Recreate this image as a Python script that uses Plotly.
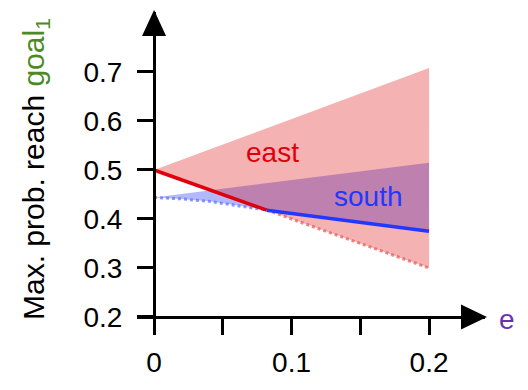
import plotly.graph_objects as go

# ---- data ----
e_major_ticks = [0, 0.1, 0.2]
e_tick_labels = ["0", "0.1", "0.2"]
e_minor_ticks = [0.05, 0.15]
p_ticks = [0.2, 0.3, 0.4, 0.5, 0.6, 0.7]
p_tick_labels = ["0.2", "0.3", "0.4", "0.5", "0.6", "0.7"]

east_upper_e = [0, 0.2]
east_upper = [0.5, 0.708]
east_lower_e = [0, 0.082, 0.2]
east_lower = [0.5, 0.418, 0.3]

south_upper_e = [0, 0.2]
south_upper = [0.444, 0.515]
south_lower_e = [0, 0.02, 0.04, 0.06, 0.082, 0.2]
south_lower = [0.444, 0.441, 0.436, 0.428, 0.418, 0.375]

crossover_e = 0.082

# ---- styling ----
FONT = "Liberation Sans, Arial, Helvetica, sans-serif"
FS = 28
RED = "#e0000c"
BLUE = "#2238ff"
W, H = 528, 390
xr = [-0.0124, 0.2407]
yr = [0.1673, 0.8224]
ml, mr, mt, mb = 137, 43, 12, 57

fig = go.Figure()

# south band (drawn first)
fig.add_trace(go.Scatter(
    x=south_upper_e + south_lower_e[::-1],
    y=south_upper + south_lower[::-1],
    fill="toself", fillcolor="rgba(0,20,240,0.30)",
    line=dict(width=0), mode="lines", hoverinfo="skip", showlegend=False))
# east band
fig.add_trace(go.Scatter(
    x=east_upper_e + east_lower_e[::-1],
    y=east_upper + east_lower[::-1],
    fill="toself", fillcolor="rgba(220,0,0,0.30)",
    line=dict(width=0), mode="lines", hoverinfo="skip", showlegend=False))

# split lower bounds at crossover
def split(xs, ys, c):
    a = [(x, y) for x, y in zip(xs, ys) if x <= c]
    b = [(x, y) for x, y in zip(xs, ys) if x >= c]
    return ([p[0] for p in a], [p[1] for p in a]), ([p[0] for p in b], [p[1] for p in b])

(ea_x, ea_y), (eb_x, eb_y) = split(east_lower_e, east_lower, crossover_e)
(sa_x, sa_y), (sb_x, sb_y) = split(south_lower_e, south_lower, crossover_e)

# dotted (dominated) parts
fig.add_trace(go.Scatter(x=eb_x, y=eb_y, mode="lines",
                         line=dict(color="rgba(235,70,70,0.65)", width=3, dash="dot"),
                         hoverinfo="skip", showlegend=False))
fig.add_trace(go.Scatter(x=sa_x, y=sa_y, mode="lines",
                         line=dict(color="rgba(90,110,255,0.7)", width=3, dash="dot"),
                         hoverinfo="skip", showlegend=False))
# solid (optimal) parts
fig.add_trace(go.Scatter(x=ea_x, y=ea_y, mode="lines",
                         line=dict(color=RED, width=3.5),
                         hoverinfo="skip", showlegend=False))
fig.add_trace(go.Scatter(x=sb_x, y=sb_y, mode="lines",
                         line=dict(color=BLUE, width=3.5),
                         hoverinfo="skip", showlegend=False))

xpos = (0.2 - yr[0]) / (yr[1] - yr[0])
ypos = (0 - xr[0]) / (xr[1] - xr[0])

fig.update_layout(
    width=W, height=H,
    margin=dict(l=ml, r=mr, t=mt, b=mb, pad=0),
    paper_bgcolor="white", plot_bgcolor="white",
    font=dict(family=FONT, size=FS, color="black"),
    xaxis=dict(range=xr, anchor="free", position=xpos,
               showgrid=False, zeroline=False,
               showline=True, linewidth=3, linecolor="black",
               tickvals=e_major_ticks, ticktext=e_tick_labels,
               ticks="outside", ticklen=16, tickwidth=3, tickcolor="black",
               minor=dict(tickvals=e_minor_ticks, ticks="outside", ticklen=16,
                          tickwidth=3, tickcolor="black", showgrid=False),
               tickfont=dict(family=FONT, size=FS), ticklabelstandoff=3),
    yaxis=dict(range=yr, anchor="free", position=ypos,
               showgrid=False, zeroline=False,
               showline=True, linewidth=3, linecolor="black",
               tickvals=p_ticks, ticktext=p_tick_labels,
               ticks="outside", ticklen=16, tickwidth=3, tickcolor="black",
               tickfont=dict(family=FONT, size=FS), ticklabelstandoff=9),
)

# arrow heads
fig.add_shape(type="path", xref="paper", yref="y", xsizemode="pixel", xanchor=1,
              ysizemode="pixel", yanchor=0.2,
              path="M 2,0 L -24,12.5 L -24,-12.5 Z",
              fillcolor="black", line=dict(width=0), layer="above")
fig.add_shape(type="path", xref="x", yref="paper", xsizemode="pixel", xanchor=0,
              ysizemode="pixel", yanchor=1,
              path="M 0,2 L 12,-24 L -12,-24 Z",
              fillcolor="black", line=dict(width=0), layer="above")

# labels
fig.add_annotation(text="Max. prob. reach <span style='color:#4b8b1f'>goal<sub>1</sub></span>",
                   xref="paper", yref="paper",
                   x=(35 - ml) / (W - ml - mr), y=(H - mb - 169) / (H - mt - mb),
                   textangle=-90, showarrow=False, xanchor="center", yanchor="middle",
                   font=dict(family=FONT, size=30, color="black"))
fig.add_annotation(text="e", xref="paper", yref="y", x=(507 - ml) / (W - ml - mr), y=0.2,
                   yshift=-3, showarrow=False, xanchor="center", yanchor="middle",
                   font=dict(family=FONT, size=FS, color="#6a30b4"))
fig.add_annotation(text="east", x=0.0858, y=0.535, showarrow=False,
                   xanchor="center", yanchor="middle",
                   font=dict(family=FONT, size=FS, color=RED))
fig.add_annotation(text="south", x=0.156, y=0.445, showarrow=False,
                   xanchor="center", yanchor="middle",
                   font=dict(family=FONT, size=FS, color=BLUE))

fig.write_html("out.html", config={"displayModeBar": False})

# remove the browser's default body margin so the figure sits at (0, 0)
with open("out.html", "r", encoding="utf-8") as f:
    html = f.read()
html = html.replace("<body>", "<body style=\"margin:0;padding:0;overflow:hidden\">", 1)
with open("out.html", "w", encoding="utf-8") as f:
    f.write(html)
